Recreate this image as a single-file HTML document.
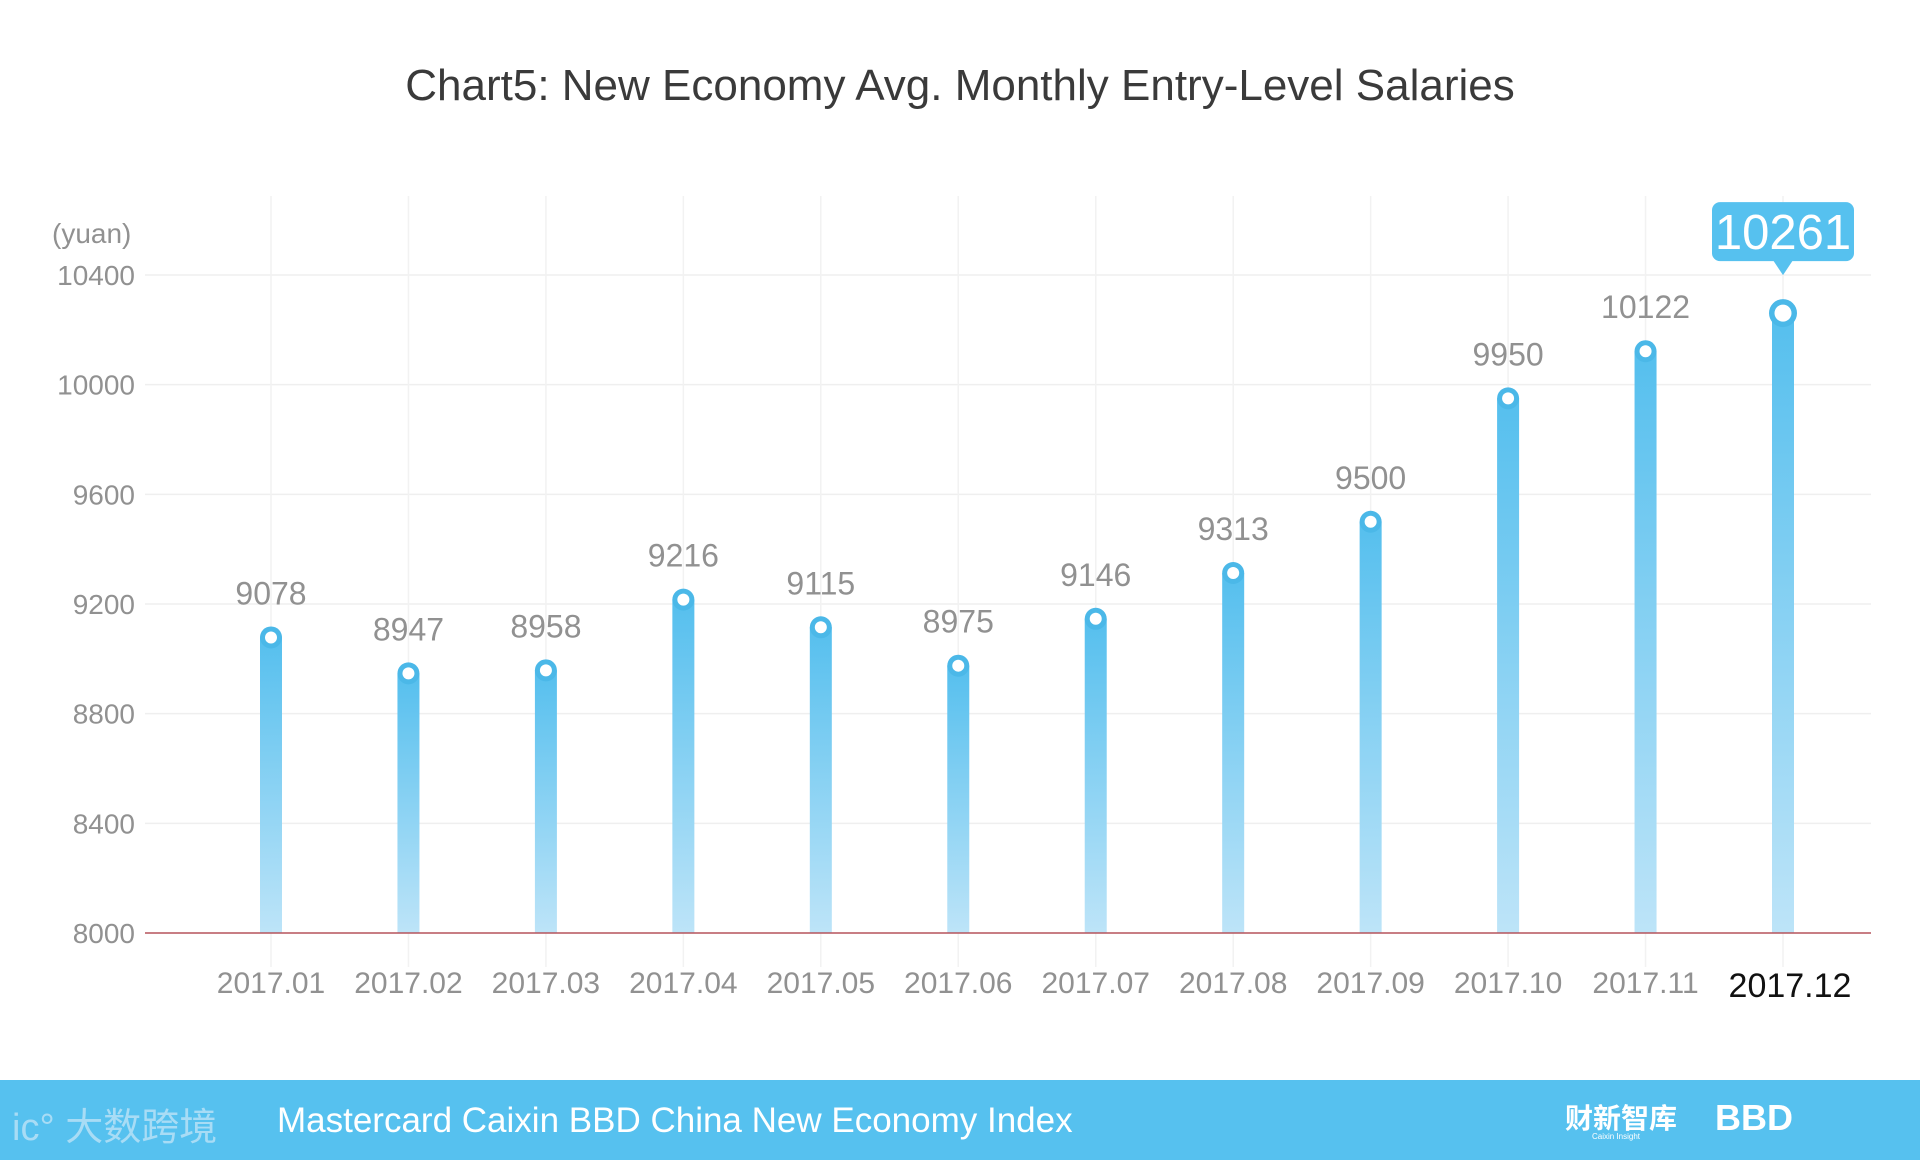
<!DOCTYPE html>
<html><head><meta charset="utf-8"><style>
html,body{margin:0;padding:0;background:#fff;}
body{width:1920px;height:1160px;overflow:hidden;position:relative;font-family:"Liberation Sans","Noto Sans CJK SC",sans-serif;}
svg{position:absolute;left:0;top:0;}
</style></head><body>
<svg id="chart" width="1920" height="1160" xmlns="http://www.w3.org/2000/svg">
<defs>
<linearGradient id="barGrad" x1="0" y1="0" x2="0" y2="1">
<stop offset="0" stop-color="#55bfee"/><stop offset="1" stop-color="#bde4f8"/>
</linearGradient>
</defs>
<text x="960" y="100" text-anchor="middle" font-size="44" fill="#3a3a3a" font-family="Liberation Sans, sans-serif">Chart5:  New Economy Avg. Monthly Entry-Level Salaries</text>
<text x="52" y="243" font-size="28" fill="#919191">(yuan)</text>
<g id="grid"></g><g id="bars"></g><g id="labels"></g>
<rect x="0" y="1080" width="1920" height="80" fill="#56c1ef"/>
<text x="12" y="1140" font-size="38" fill="#a8dcf5" font-family="Liberation Sans, Noto Sans CJK SC, sans-serif">ic° 大数跨境</text>
<text x="277" y="1132" font-size="35" fill="#fff">Mastercard Caixin BBD China New Economy Index</text>
<text x="1565" y="1128" font-size="28" font-weight="bold" fill="#fff" font-family="Noto Sans CJK SC, sans-serif">财新智库</text>
<text x="1592" y="1139" font-size="8" fill="#fff">Caixin Insight</text>
<text x="1715" y="1130" font-size="36" font-weight="bold" fill="#fff">BBD</text>
</svg>
<script>
const categories=["2017.01","2017.02","2017.03","2017.04","2017.05","2017.06","2017.07","2017.08","2017.09","2017.10","2017.11","2017.12"];
const values=[9078,8947,8958,9216,9115,8975,9146,9313,9500,9950,10122,10261];
const yTicks=[8000,8400,8800,9200,9600,10000,10400];
const NS="http://www.w3.org/2000/svg";
const x0=145,x1=1871,yBase=933,yTop=275,vMin=8000,vMax=10400;
function yScale(v){return yBase-(v-vMin)/(vMax-vMin)*(yBase-yTop);}
function xScale(i){return 271+i*(1783-271)/(categories.length-1);}
function mk(tag,attrs,parent){const e=document.createElementNS(NS,tag);for(const k in attrs)e.setAttribute(k,attrs[k]);parent.appendChild(e);return e;}
const grid=document.getElementById('grid'),bars=document.getElementById('bars'),labels=document.getElementById('labels');
yTicks.forEach(t=>{
  const y=yScale(t);
  if(t!==vMin){const l=mk('line',{x1:x0,x2:x1,y1:y,y2:y,stroke:'#efefef','stroke-width':1.5},grid);
  
  }
  const tx=mk('text',{x:135,y:y+10,'text-anchor':'end','font-size':28,fill:'#919191'},labels);
  tx.textContent=t;
  
  
});
categories.forEach((c,i)=>{
  const x=xScale(i);
  const g=mk('line',{x1:x,x2:x,y1:196,y2:967,stroke:'#f2f2f2','stroke-width':1.5},grid);
  
  
  const y=yScale(values[i]);
  const b=mk('rect',{x:x-11,y:y,width:22,height:yBase-y,fill:'url(#barGrad)'},bars);
  
  
  const last=i===categories.length-1;
  const r=last?14:11;
  const o=mk('circle',{cx:x,cy:y,r:r,fill:'#4bb8e8'},bars);
  
  
  const w=mk('circle',{cx:x,cy:y,r:last?8.5:6,fill:'#fff'},bars);
  
  
  if(!last){
    const v=mk('text',{x:x,y:y-33,'text-anchor':'middle','font-size':32,fill:'#919191'},labels);
    v.textContent=values[i];
    
    
  } else {
    const tip=mk('rect',{x:x-71,y:y-111,width:142,height:59,rx:8,fill:'#56c1ef'},labels);
    
    
    const p=mk('polygon',{points:(x-10)+','+(y-53)+' '+(x+10)+','+(y-53)+' '+x+','+(y-38),fill:'#56c1ef'},labels);
    
    
    const tv=mk('text',{x:x,y:y-64,'text-anchor':'middle','font-size':49,fill:'#fff'},labels);
    tv.textContent=values[i];
    
    
  }
  const xl=mk('text',{x:last?x+7:x,y:last?997:993,'text-anchor':'middle','font-size':last?34:30,fill:last?'#111':'#919191'},labels);
  xl.textContent=c;
  
  
});
const ax=mk('line',{x1:x0,x2:x1,y1:yBase,y2:yBase,stroke:'#b5545c','stroke-width':1.5},labels);


</script>
</body></html>
